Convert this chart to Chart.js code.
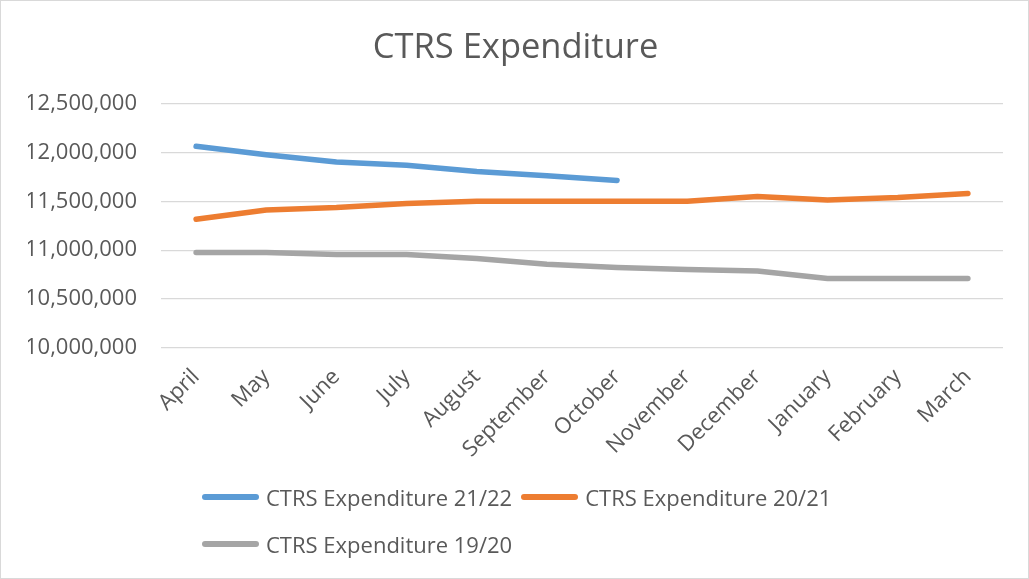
<!DOCTYPE html>
<html>
<head>
<meta charset="utf-8">
<script src="https://cdn.jsdelivr.net/npm/chart.js@4"></script>
<style>
    body { margin: 0; background: #ffffff; }
    #wrap {
        position: relative;
        width: 1029px;
        height: 579px;
        box-sizing: border-box;
        border: 1px solid #d9d9d9;
        font-family: "Open Sans", "Liberation Sans", sans-serif;
        overflow: hidden;
    }
    #chart { position: absolute; left: 0; top: 0; }
    #legend {
        position: absolute;
        left: 201px;
        top: 472px;
        width: 760px;
        font-size: 22px;
        color: #595959;
    }
    .row { display: flex; height: 47px; align-items: center; }
    .item { display: flex; align-items: center; margin-right: 9px; }
    .swatch { width: 57px; height: 6px; border-radius: 3px; margin-right: 7px; }
</style>
</head>
<body>
<div id="wrap">
    <canvas id="chart" width="1029" height="579"></canvas>
    <div id="legend"></div>
</div>
<script>
// Cores
const colors = {
    blue: '#5b9bd5',
    orange: '#ed7d31',
    gray: '#a5a5a5',
    grid: '#d9d9d9',
    text: '#595959',
};

// Dados
const months = ['April', 'May', 'June', 'July', 'August', 'September', 'October',
    'November', 'December', 'January', 'February', 'March'];
const seriesNames = ['CTRS Expenditure 21/22', 'CTRS Expenditure 20/21', 'CTRS Expenditure 19/20'];
const exp2122 = [12062000, 11976000, 11901000, 11867000, 11805000, 11761000, 11713000,
    null, null, null, null, null];
const exp2021 = [11315000, 11411000, 11435000, 11476000, 11500000, 11500000, 11500000,
    11500000, 11548000, 11513000, 11538000, 11579000];
const exp1920 = [10976000, 10975000, 10956000, 10956000, 10915000, 10856000, 10822000,
    10802000, 10788000, 10710000, 10710000, 10710000];
const yMin = 10000000;
const yMax = 12500000;
const yStep = 500000;

const font = '"Open Sans", "Liberation Sans", sans-serif';

function lineDataset(label, data, color) {
    return {
        label: label,
        data: data,
        borderColor: color,
        backgroundColor: color,
        borderWidth: 5.5,
        borderCapStyle: 'round',
        borderJoinStyle: 'round',
        pointRadius: 0,
        tension: 0,
        spanGaps: false,
    };
}

const chart = new Chart(document.getElementById('chart'), {
    type: 'line',
    data: {
        labels: months,
        datasets: [
            lineDataset(seriesNames[0], exp2122, colors.blue),
            lineDataset(seriesNames[1], exp2021, colors.orange),
            lineDataset(seriesNames[2], exp1920, colors.gray),
        ]
    },
    options: {
        responsive: false,
        animation: false,
        // padding simétrico para o título ficar centrado
        layout: {
            padding: { left: 27, right: 27, top: 0, bottom: 0 }
        },
        plugins: {
            legend: { display: false },
            tooltip: { enabled: false },
            title: {
                display: true,
                text: 'CTRS Expenditure',
                color: colors.text,
                font: { family: font, size: 34.5, weight: 'normal' },
                padding: { top: 26, bottom: 35 },
            }
        },
        scales: {
            x: {
                offset: true,
                grid: { display: false },
                border: { display: false },
                ticks: {
                    color: colors.text,
                    font: { family: font, size: 22 },
                    minRotation: 45,
                    maxRotation: 45,
                    autoSkip: false,
                    padding: 8,
                },
                // altura fixa para a área das categorias
                afterFit: (scale) => { scale.height = 232; }
            },
            y: {
                min: yMin,
                max: yMax,
                grid: { color: colors.grid, lineWidth: 1.3, drawTicks: false },
                border: { display: false },
                ticks: {
                    stepSize: yStep,
                    color: colors.text,
                    font: { family: font, size: 22 },
                    padding: 24,
                    callback: (v) => v.toLocaleString('en-US'),
                },
                afterFit: (scale) => { scale.width = 133; }
            }
        }
    }
});

// Legenda em HTML (duas por linha, como no original)
const legend = document.getElementById('legend');
let row = null;
chart.data.datasets.forEach((ds, i) => {
    if (i % 2 === 0) {
        row = document.createElement('div');
        row.className = 'row';
        legend.appendChild(row);
    }
    const item = document.createElement('div');
    item.className = 'item';
    const sw = document.createElement('span');
    sw.className = 'swatch';
    sw.style.background = ds.borderColor;
    const txt = document.createElement('span');
    txt.textContent = ds.label;
    item.appendChild(sw);
    item.appendChild(txt);
    row.appendChild(item);
});
</script>
</body>
</html>
